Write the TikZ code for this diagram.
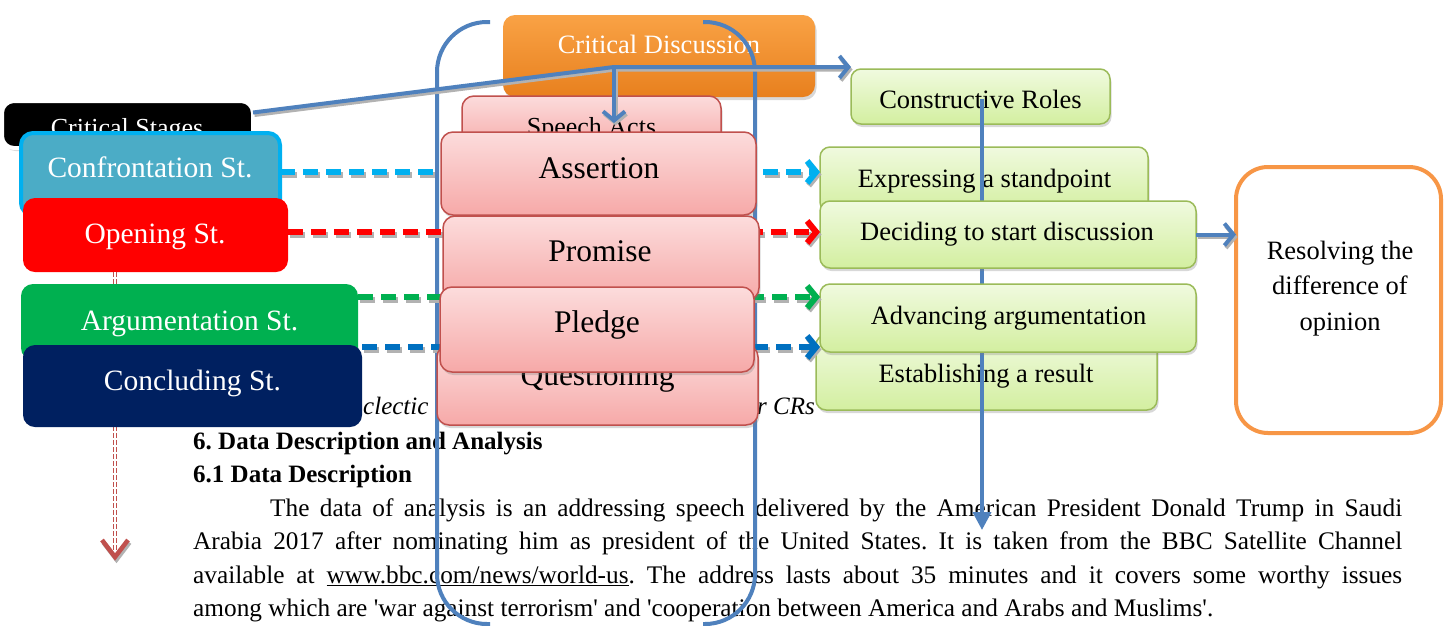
\documentclass[tikz,border=0pt]{standalone}
\usepackage{fontspec}
\setmainfont{Liberation Serif}[Ligatures=TeXOff]
\usetikzlibrary{arrows.meta,shadows,fit,calc}
\definecolor{linkblue}{HTML}{4F81BD}
\definecolor{pinkline}{HTML}{C0504D}
\definecolor{pinktop}{HTML}{FCDCDC}
\definecolor{pinkbot}{HTML}{F6A9A8}
\definecolor{greenline}{HTML}{9BBB59}
\definecolor{greentop}{HTML}{F0FADF}
\definecolor{greenbot}{HTML}{D3EFA0}
\definecolor{cdtop}{HTML}{F9A245}
\definecolor{cdbot}{HTML}{E8801E}
\definecolor{conffill}{HTML}{4BACC6}
\definecolor{confline}{HTML}{00B0F0}
\definecolor{argfill}{HTML}{00B050}
\definecolor{concfill}{HTML}{002060}
\definecolor{dashblue}{HTML}{0070C0}
\definecolor{resline}{HTML}{F79646}
\definecolor{dred}{HTML}{C0504D}
\newcommand\fsz[1]{\fontsize{#1}{#1}\selectfont}
% draw a path with a grey offset copy beneath it
\newcommand\shadowdraw[2]{%
  \draw[#1, draw=black!30, transform canvas={shift={(1.5pt,-2.5pt)}}] #2;
  \draw[#1] #2;}
\begin{document}
\begin{tikzpicture}[x=1pt,y=-1pt,
  box/.style={inner sep=0pt, outer sep=0pt},
  stagebox/.style={box, rounded corners=12pt},
  pinkbox/.style={box, rounded corners=12pt, draw=pinkline, line width=1.5pt, top color=pinktop, bottom color=pinkbot, drop shadow={opacity=0.3, shadow xshift=1.5pt, shadow yshift=-3pt}},
  greenbox/.style={box, rounded corners=10pt, draw=greenline, line width=1.5pt, top color=greentop, bottom color=greenbot, drop shadow={opacity=0.3, shadow xshift=1.5pt, shadow yshift=-3pt}},
  wtxt/.style={inner sep=0pt, anchor=base, text=white},
  btxt/.style={inner sep=0pt, anchor=base, text=black},
  bluearrow/.style={draw=linkblue, line width=4pt, -{Straight Barb[length=9pt,width=22pt]}},
  dasharrow/.style={line width=6pt, dash pattern=on 15pt off 8pt, -{Straight Barb[length=9pt,width=22pt]}},
]
\useasboundingbox (0,0) rectangle (1445,625);
\fill[white] (0,0) rectangle (1445,625);

% ---- background document text
\node[inner sep=0pt, anchor=base west, font=\fsz{25}\itshape] (capA) at (363,414) {clectic};
\node[inner sep=0pt, anchor=base east, font=\fsz{25}\itshape] (capB) at (815,414) {r CRs};
\node[inner sep=0pt, anchor=base west, font=\fsz{25}\bfseries] (h1) at (193,449) {6.\ Data Description and Analysis};
\node[inner sep=0pt, anchor=base west, font=\fsz{25}\bfseries] (h2) at (193,482) {6.1 Data Description};
\node[inner sep=0pt, anchor=base west] (body) at (193,516) {\parbox[t]{1209pt}{\fontsize{25.3}{33.5}\selectfont\frenchspacing\hyphenpenalty=10000\emergencystretch=40pt
\noindent\hspace*{77pt}The data of analysis is an addressing speech delivered by the American President Donald Trump in Saudi\linebreak
Arabia 2017 after nominating him as president of the United States. It is taken from the BBC Satellite Channel\linebreak
available at \underline{www.bbc.com/news/world-us}. The address lasts about 35 minutes and it covers some worthy issues\linebreak
among which are 'war against terrorism' and 'cooperation between America and Arabs and Muslims'.}};

% ---- critical stages
\node[stagebox, fill=black, draw=white, line width=4pt, drop shadow={opacity=0.3, shadow xshift=1.5pt, shadow yshift=-3pt}, fit={(2,101) (253,148)}] (cs) {};
\node[wtxt, font=\fsz{26}] (csT) at (127,136) {Critical Stages};
\node[stagebox, fill=conffill, draw=confline, line width=4pt, fit={(21,133) (280,215)}] (conf) {};
\node[wtxt, font=\fsz{29.5}] (confT) at (150,177) {Confrontation St.};
\node[stagebox, fill=red, fit={(23,198) (288,272)}] (open) {};
\node[wtxt, font=\fsz{29.5}] (openT) at (155,243) {Opening St.};
\coordinate (vtip) at (115,557);
\draw[draw=dred, double=white, double distance=1.8pt, line width=1.5pt, dash pattern=on 5pt off 2pt] ([xshift=-40.5pt]open.south) -- ([yshift=4pt]vtip);
\shadowdraw{draw=dred, line width=4.5pt}{($(vtip)+(-13,-17)$) -- (vtip) -- ($(vtip)+(13,-17)$)}
\node[stagebox, fill=argfill, fit={(21,284) (358,360)}] (arg) {};
\node[wtxt, font=\fsz{29.5}] (argT) at (189.5,330) {Argumentation St.};
\node[stagebox, fill=concfill, fit={(23,345) (362,427)}] (conc) {};
\node[wtxt, font=\fsz{29.5}] (concT) at (192.5,390) {Concluding St.};

% ---- constructive roles
\node[greenbox, fit={(851,69) (1110,124)}] (cr) {};
\node[btxt, font=\fsz{26.5}] (crT) at (980.5,108) {Constructive Roles};
\node[greenbox, fit={(820,147) (1148,212)}] (expr) {};
\node[btxt, font=\fsz{26.5}] (exprT) at (984.5,187) {Expressing a standpoint};
\node[greenbox, fit={(816,335) (1157,410)}] (est) {};
\node[btxt, font=\fsz{26.5}] (estT) at (986,382) {Establishing a result};
\coordinate (K) at (982,530);
\draw[draw=linkblue, line width=4pt, -{Triangle[length=18pt,width=18pt]}] ([xshift=1.5pt,yshift=-2pt]cr.center) -- (K);
\node[greenbox, fit={(820,201) (1196,268)}] (deci) {};
\node[btxt, font=\fsz{26.5}] (deciT) at (1007,240) {Deciding to start discussion};
\node[greenbox, fit={(820,284) (1196,352)}] (adv) {};
\node[btxt, font=\fsz{26.5}] (advT) at (1008.5,324) {Advancing argumentation};

% ---- resolving
\node[box, rounded corners=32pt, draw=resline, line width=4pt, fill=white, fit={(1236,167) (1441,433)}] (res) {};
\node[btxt, font=\fsz{26.5}, align=center, anchor=base] (resT) at (1340,330) {Resolving the\\[9pt]difference of\\[9pt]opinion};
\shadowdraw{bluearrow}{(deci.east) -- (deci.east -| res.west)}

% ---- critical discussion and speech acts
\node[box, rounded corners=12pt, top color=cdtop, bottom color=cdbot, drop shadow={opacity=0.3, shadow xshift=1.5pt, shadow yshift=-3pt}, fit={(503,15) (815,97)}] (cd) {};
\node[wtxt, font=\fsz{26.5}] (cdT) at (659,53) {Critical Discussion};
\node[pinkbox, fit={(462,96) (721,150)}] (sa) {};
\node[btxt, font=\fsz{26}] (saT) at (591.5,135) {Speech Acts};

% ---- bracket
\draw[draw=linkblue, line width=4pt, rounded corners=50pt] (490,22) -- (437,22) -- (437,624) -- (490,624);
\draw[draw=linkblue, line width=4pt, rounded corners=50pt] (703,22) -- (755,22) -- (755,624) -- (703,624);

% ---- blue connectors
\coordinate (J) at (614,67);
\shadowdraw{bluearrow}{([yshift=12pt]cs.east) -- (J) -- (J -| cr.west)}
\shadowdraw{bluearrow}{(J) -- (J |- sa.center)}

% ---- dashed connectors
\shadowdraw{dasharrow, draw=confline}{([yshift=2pt]conf.east) -- ([yshift=2pt]conf.east -| expr.west)}
\shadowdraw{dasharrow, draw=red}{([yshift=3pt]open.east) -- ([yshift=3pt]open.east -| deci.west)}
\shadowdraw{dasharrow, draw=argfill}{([yshift=25pt]arg.east) -- ([yshift=25pt]arg.east -| adv.west)}
\shadowdraw{dasharrow, draw=dashblue}{([yshift=39pt]conc.east) -- ([yshift=39pt]conc.east -| adv.west)}

% ---- speech act boxes
\node[pinkbox, fit={(441,132) (756,215)}] (as) {};
\node[btxt, font=\fsz{31.5}] (asT) at (599,178) {Assertion};
\node[pinkbox, fit={(443,216) (759,300)}] (pr) {};
\node[btxt, font=\fsz{31.5}] (prT) at (600,261) {Promise};
\node[pinkbox, fit={(437,345) (758,425)}] (qu) {};
\node[btxt, font=\fsz{31.5}] (quT) at (597.5,385) {Questioning};
\node[pinkbox, fit={(440,287) (754,372)}] (pl) {};
\node[btxt, font=\fsz{31.5}] (plT) at (597,332) {Pledge};
\end{tikzpicture}
\end{document}
